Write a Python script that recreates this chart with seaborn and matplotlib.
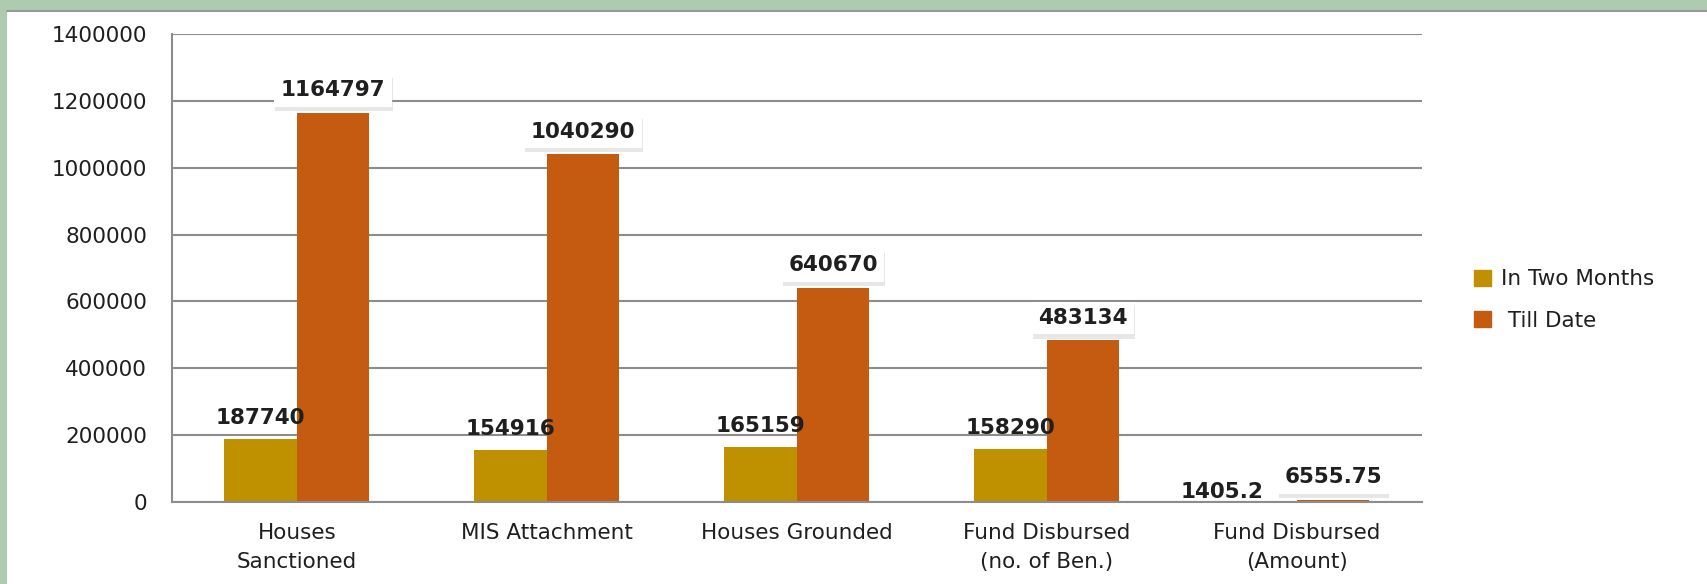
import numpy as np
import pandas as pd
import seaborn as sns
import matplotlib.pyplot as plt
import matplotlib.patheffects as pe
from matplotlib.patches import Rectangle

# --- datos ---
categorias = ["Houses\nSanctioned", "MIS Attachment", "Houses Grounded",
              "Fund Disbursed\n(no. of Ben.)", "Fund Disbursed\n(Amount)"]
series = ["In Two Months", " Till Date"]
en_dos_meses = [187740, 154916, 165159, 158290, 1405.2]
hasta_fecha = [1164797, 1040290, 640670, 483134, 6555.75]
etiquetas_dos_meses = ["187740", "154916", "165159", "158290", "1405.2"]
etiquetas_fecha = ["1164797", "1040290", "640670", "483134", "6555.75"]
y_ticks = [0, 200000, 400000, 600000, 800000, 1000000, 1200000, 1400000]

COLORES = ["#BF9000", "#C55A11"]
GRIS = "#8C8C8C"
TEXTO = "#1F1F1F"
FS = 15.5

df = pd.DataFrame({
    "cat": categorias * 2,
    "serie": [series[0]] * 5 + [series[1]] * 5,
    "valor": en_dos_meses + hasta_fecha,
})

sns.set_style("white")
plt.rcParams["font.family"] = ["DejaVu Sans"]

fig = plt.figure(figsize=(17.08, 5.84), dpi=100, facecolor="#AFCBAF")
# panel blanco con borde verde arriba/izquierda
fig.patches.append(Rectangle((7 / 1708, 0), 1 - 7 / 1708, 1 - 10 / 584,
                             transform=fig.transFigure, facecolor="white",
                             edgecolor="none", zorder=-5))
fig.lines.append(plt.Line2D([7 / 1708, 1], [1 - 10.5 / 584] * 2,
                            transform=fig.transFigure, color="#999999", lw=1.5,
                            zorder=-4))

ax = fig.add_axes([172 / 1708, 82 / 584, 1250 / 1708, 468 / 584])
ax.set_facecolor("none")
sns.barplot(data=df, x="cat", y="valor", hue="serie", palette=COLORES,
            width=0.58, saturation=1, linewidth=0, ax=ax, legend=True)

ax.set_xlim(-0.5, 4.5)
ax.set_ylim(0, 1400000)
ax.set_yticks(y_ticks)
ax.set_yticklabels([str(v) for v in y_ticks], fontsize=FS, color=TEXTO)
ax.set_xticks(range(5))
ax.set_xticklabels(categorias, fontsize=FS, color=TEXTO, linespacing=1.55)
ax.set_xticks(np.arange(-0.5, 5, 1), minor=True)
ax.tick_params(axis="x", which="major", length=0, pad=15)
ax.tick_params(axis="x", which="minor", length=8, color=GRIS, width=1.5)
ax.tick_params(axis="y", length=10, color=GRIS, width=1.5, pad=8)
ax.set_xlabel("")
ax.set_ylabel("")
ax.yaxis.grid(True, color=GRIS, lw=1.5)
ax.set_axisbelow(True)
for s in ["top", "right"]:
    ax.spines[s].set_visible(False)
for s in ["left", "bottom"]:
    ax.spines[s].set_color(GRIS)
    ax.spines[s].set_linewidth(1.5)

# etiquetas de datos
dx_dos = [0, 0, 0, 0, -28]
for i, bar in enumerate(ax.containers[0]):
    x = bar.get_x() + bar.get_width() / 2
    ax.annotate(etiquetas_dos_meses[i], (x, bar.get_height()),
                xytext=(dx_dos[i], 8 if i < 4 else 0), textcoords="offset points",
                ha="center", va="bottom", fontsize=FS, fontweight="bold",
                color=TEXTO)

for i, bar in enumerate(ax.containers[1]):
    x = bar.get_x() + bar.get_width() / 2
    t = ax.annotate(etiquetas_fecha[i], (x, bar.get_height()),
                    xytext=(0, 9), textcoords="offset points",
                    ha="center", va="bottom", fontsize=FS, fontweight="bold",
                    color=TEXTO,
                    bbox=dict(boxstyle="square,pad=0.3", fc="white", ec="none"))
    t.get_bbox_patch().set_path_effects([
        pe.SimplePatchShadow(offset=(0.5, -3), shadow_rgbFace="#bbbbbb", alpha=0.35),
        pe.Normal()])

ax.get_legend().remove()
handles = [Rectangle((0, 0), 1, 1, color=c) for c in COLORES]
fig.legend(handles, series, loc="center left",
           bbox_to_anchor=(1455 / 1708, 1 - 300 / 584), frameon=False,
           fontsize=FS, handlelength=0.75, handleheight=0.75,
           handletextpad=0.5, labelspacing=1.0, labelcolor=TEXTO)

fig.savefig("out.png", dpi=100, facecolor=fig.get_facecolor())
